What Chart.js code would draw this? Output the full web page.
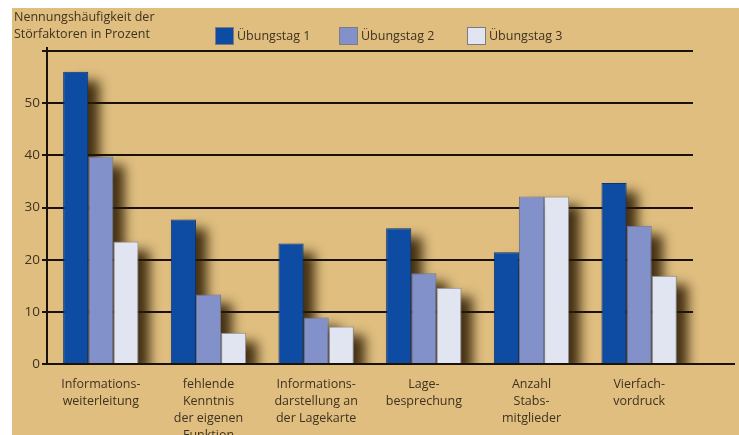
<!DOCTYPE html>
<html>
<head>
<meta charset="utf-8">
<script src="https://cdn.jsdelivr.net/npm/chart.js@4/dist/chart.umd.min.js"></script>
<style>
  html, body { margin: 0; padding: 0; background: #fff; }
  #wrap { width: 739px; height: 435px; position: relative; }
</style>
</head>
<body>
<div id="wrap"><canvas id="chart"></canvas></div>
<script>
// data
const categories = [
  ['Informations-', 'weiterleitung'],
  ['fehlende', 'Kenntnis', 'der eigenen', 'Funktion'],
  ['Informations-', 'darstellung an', 'der Lagekarte'],
  ['Lage-', 'besprechung'],
  ['Anzahl', 'Stabs-', 'mitglieder'],
  ['Vierfach-', 'vordruck']
];
const tag1 = [56, 27.7, 23.1, 26, 21.4, 34.7];
const tag2 = [39.8, 13.3, 8.9, 17.4, 32.1, 26.5];
const tag3 = [23.5, 6, 7.2, 14.6, 32.1, 16.9];
const seriesNames = ['Übungstag 1', 'Übungstag 2', 'Übungstag 3'];
const yTicks = [0, 10, 20, 30, 40, 50];
const titleLines = ['Nennungshäufigkeit der', 'Störfaktoren in Prozent'];

const textColor = '#3f3220';
const font = '"Open Sans", "DejaVu Sans", sans-serif';
const colors = ['#0d4ca2', '#8391cb', '#e1e4f1'];
const borders = ['#0a3474', '#6f7590', '#8a8a96'];

const decor = {
  id: 'decor',
  beforeDraw(chart) {
    const c = chart.ctx;
    c.save();
    c.fillStyle = '#dfbe7f';
    c.fillRect(12, 8, chart.width - 12, chart.height - 8);
    c.restore();
  },
  beforeDatasetsDraw(chart) {
    // soft drop shadow behind every bar
    const c = chart.ctx;
    const a = chart.chartArea;
    c.save();
    c.beginPath();
    c.rect(a.left + 1, a.top - 20, a.right - a.left + 60, a.bottom - a.top + 19);
    c.clip();
    c.filter = 'blur(6px)';
    c.fillStyle = 'rgba(40, 24, 0, 0.85)';
    chart.data.datasets.forEach((ds, i) => {
      chart.getDatasetMeta(i).data.forEach(bar => {
        const p = bar.getProps(['x', 'y', 'base', 'width'], true);
        c.fillRect(p.x - p.width / 2 + 11, p.y + 9, p.width, p.base - p.y);
      });
    });
    c.restore();
  },
  afterDraw(chart) {
    const c = chart.ctx;
    const y0 = chart.scales.y.getPixelForValue(0);
    const a = chart.chartArea;
    c.save();
    c.strokeStyle = '#1a1208';
    c.lineWidth = 2;
    c.beginPath();
    // zero line runs on past the plot, axis pokes above the top line
    c.moveTo(a.right, y0);
    c.lineTo(735, y0);
    c.moveTo(a.left, a.top);
    c.lineTo(a.left, a.top - 4);
    c.stroke();

    // axis title
    c.fillStyle = textColor;
    c.font = '12.5px ' + font;
    c.textBaseline = 'middle';
    titleLines.forEach((t, i) => c.fillText(t, 14, 17 + i * 17));

    // legend
    const xs = [215, 339, 467];
    seriesNames.forEach((name, i) => {
      c.fillStyle = colors[i];
      c.fillRect(xs[i], 27, 19, 18);
      c.strokeStyle = '#7d7b80';
      c.lineWidth = 1;
      c.strokeRect(xs[i] + 0.5, 27.5, 18, 17);
      c.fillStyle = textColor;
      c.font = '12.5px ' + font;
      c.fillText(name, xs[i] + 22, 36);
    });
    c.restore();
  }
};

new Chart(document.getElementById('chart'), {
  type: 'bar',
  data: {
    labels: categories,
    datasets: [tag1, tag2, tag3].map((d, i) => ({
      label: seriesNames[i],
      data: d,
      backgroundColor: colors[i],
      borderColor: borders[i],
      borderWidth: 1,
      barPercentage: 1,
      categoryPercentage: 0.7
    }))
  },
  options: {
    responsive: true,
    maintainAspectRatio: false,
    animation: false,
    layout: { padding: { top: 51, right: 46, left: 0, bottom: 0 } },
    plugins: { legend: { display: false }, title: { display: false }, tooltip: { enabled: false } },
    scales: {
      x: {
        grid: { display: false },
        border: { color: '#1a1208', width: 2 },
        ticks: { color: textColor, font: { family: font, size: 12.5, lineHeight: 1.36 }, padding: 4, maxRotation: 0, autoSkip: false },
        afterFit(s) { s.height = 71; }
      },
      y: {
        min: 0,
        max: 60,
        afterBuildTicks(s) { s.ticks = yTicks.concat([60]).map(v => ({ value: v })); },
        grid: { color: '#1a1208', lineWidth: 2, tickLength: 5, drawTicks: true },
        border: { color: '#1a1208', width: 2 },
        ticks: {
          color: textColor,
          font: { family: font, size: 13.5 },
          padding: 2,
          callback: v => yTicks.includes(v) ? String(v) : ''
        },
        afterFit(s) { s.width = 47; }
      }
    }
  },
  plugins: [decor]
});
</script>
</body>
</html>
